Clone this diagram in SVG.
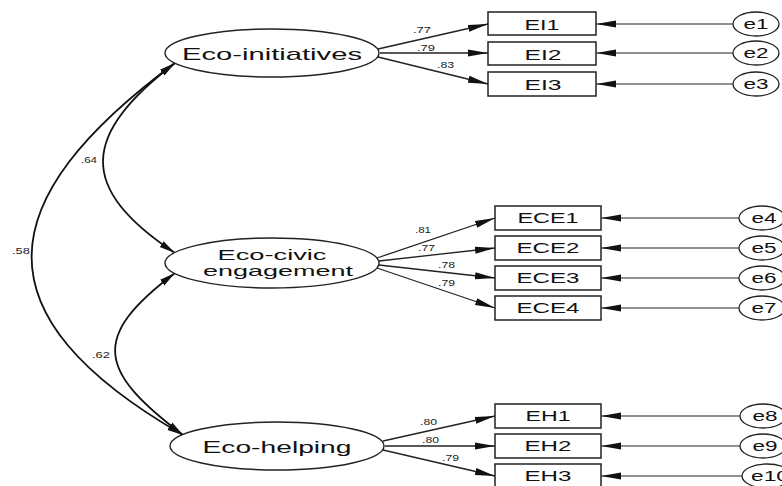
<svg xmlns="http://www.w3.org/2000/svg" width="782" height="486" viewBox="0 0 782 486">
<style>
.lat{fill:#fff;stroke:#222;stroke-width:1.4}
.box{fill:#fff;stroke:#222;stroke-width:1.5}
.err{fill:#fff;stroke:#222;stroke-width:1.3}
.t{font-family:"Liberation Sans",Arial,sans-serif;fill:#111;text-anchor:middle}
.n{font-family:"Liberation Sans",Arial,sans-serif;fill:#222;font-size:9px}
.ld{stroke:#222;stroke-width:1.3;fill:none;marker-end:url(#ah)}
.ea{stroke:#222;stroke-width:1.2;fill:none;marker-end:url(#ah)}
.cv{stroke:#111;stroke-width:1.8;fill:none;marker-start:url(#ch);marker-end:url(#ch)}
</style>
<defs>
<marker id="ah" markerUnits="userSpaceOnUse" viewBox="0 0 20 8" refX="20" refY="4" markerWidth="20" markerHeight="8" orient="auto">
<path d="M0,0.5 L20,4 L0,7.5 z" fill="#111"/>
</marker>
<marker id="ch" markerUnits="userSpaceOnUse" viewBox="0 0 16 8" refX="16" refY="4" markerWidth="16" markerHeight="8" orient="auto-start-reverse">
<path d="M0,0.5 L16,4 L0,7.5 z" fill="#111"/>
</marker>
</defs>
<rect width="782" height="486" fill="#fff"/>

<g id="connectors">
<path class="cv" d="M175,63 C-10,200 -25,315 183,435"/>
<path class="cv" d="M175,63 C81,135 77,188 175,253"/>
<path class="cv" d="M175,273 C90,337 98,371 183,435"/>
<line class="ld" x1="378" y1="49" x2="488" y2="24"/>
<line class="ld" x1="380" y1="53" x2="488" y2="53"/>
<line class="ld" x1="378" y1="57" x2="488" y2="84"/>
<line class="ld" x1="377" y1="258" x2="495" y2="218"/>
<line class="ld" x1="379" y1="261" x2="495" y2="248"/>
<line class="ld" x1="379" y1="265" x2="495" y2="278"/>
<line class="ld" x1="377" y1="268" x2="495" y2="308"/>
<line class="ld" x1="383" y1="441" x2="495" y2="416"/>
<line class="ld" x1="385" y1="446" x2="495" y2="446"/>
<line class="ld" x1="383" y1="450" x2="495" y2="476"/>
<line class="ea" x1="733" y1="24" x2="596" y2="24"/>
<line class="ea" x1="733" y1="53" x2="596" y2="53"/>
<line class="ea" x1="733" y1="84" x2="596" y2="84"/>
<line class="ea" x1="739" y1="218" x2="601" y2="218"/>
<line class="ea" x1="739" y1="248" x2="601" y2="248"/>
<line class="ea" x1="739" y1="278" x2="601" y2="278"/>
<line class="ea" x1="739" y1="308" x2="601" y2="308"/>
<line class="ea" x1="740" y1="416" x2="601" y2="416"/>
<line class="ea" x1="740" y1="446" x2="601" y2="446"/>
<line class="ea" x1="742" y1="476" x2="601" y2="476"/>
<text class="n" x="413" y="33" textLength="18" lengthAdjust="spacingAndGlyphs">.77</text>
<text class="n" x="417" y="51" textLength="18" lengthAdjust="spacingAndGlyphs">.79</text>
<text class="n" x="437" y="68" textLength="17" lengthAdjust="spacingAndGlyphs">.83</text>
<text class="n" x="415" y="233" textLength="16" lengthAdjust="spacingAndGlyphs">.81</text>
<text class="n" x="418" y="251" textLength="17" lengthAdjust="spacingAndGlyphs">.77</text>
<text class="n" x="438" y="268" textLength="17" lengthAdjust="spacingAndGlyphs">.78</text>
<text class="n" x="438" y="286" textLength="17" lengthAdjust="spacingAndGlyphs">.79</text>
<text class="n" x="420" y="425" textLength="17" lengthAdjust="spacingAndGlyphs">.80</text>
<text class="n" x="422" y="443" textLength="17" lengthAdjust="spacingAndGlyphs">.80</text>
<text class="n" x="442" y="461" textLength="17" lengthAdjust="spacingAndGlyphs">.79</text>
<text class="n" x="81" y="163" textLength="16" lengthAdjust="spacingAndGlyphs">.64</text>
<text class="n" x="12" y="254" textLength="18" lengthAdjust="spacingAndGlyphs">.58</text>
<text class="n" x="92" y="358" textLength="18" lengthAdjust="spacingAndGlyphs">.62</text>
</g>

<g id="eco-initiatives">
<ellipse class="lat" cx="272" cy="53" rx="107" ry="24"/>
<text class="t" x="272" y="60" font-size="17" textLength="180" lengthAdjust="spacingAndGlyphs">Eco-initiatives</text>
</g>
<g id="eco-civic">
<ellipse class="lat" cx="272" cy="263" rx="107" ry="25"/>
<text class="t" x="272" y="260" font-size="15" textLength="109" lengthAdjust="spacingAndGlyphs">Eco-civic</text>
<text class="t" x="278" y="276" font-size="15" textLength="150" lengthAdjust="spacingAndGlyphs">engagement</text>
</g>
<g id="eco-helping">
<ellipse class="lat" cx="277" cy="446" rx="107" ry="24"/>
<text class="t" x="277" y="453" font-size="17" textLength="149" lengthAdjust="spacingAndGlyphs">Eco-helping</text>
</g>

<g id="EI1"><rect class="box" x="488" y="12" width="108" height="23"/><text class="t" x="542" y="30" font-size="14" textLength="35" lengthAdjust="spacingAndGlyphs">EI1</text></g>
<g id="EI2"><rect class="box" x="488" y="42" width="108" height="23"/><text class="t" x="543" y="60" font-size="14" textLength="37" lengthAdjust="spacingAndGlyphs">EI2</text></g>
<g id="EI3"><rect class="box" x="488" y="72" width="108" height="24"/><text class="t" x="543" y="90" font-size="14" textLength="37" lengthAdjust="spacingAndGlyphs">EI3</text></g>

<g id="ECE1"><rect class="box" x="495" y="206" width="106" height="24"/><text class="t" x="548" y="223" font-size="14" textLength="61" lengthAdjust="spacingAndGlyphs">ECE1</text></g>
<g id="ECE2"><rect class="box" x="495" y="236" width="106" height="24"/><text class="t" x="548" y="253" font-size="14" textLength="63" lengthAdjust="spacingAndGlyphs">ECE2</text></g>
<g id="ECE3"><rect class="box" x="495" y="266" width="106" height="24"/><text class="t" x="548" y="283" font-size="14" textLength="63" lengthAdjust="spacingAndGlyphs">ECE3</text></g>
<g id="ECE4"><rect class="box" x="495" y="296" width="106" height="24"/><text class="t" x="548" y="313" font-size="14" textLength="63" lengthAdjust="spacingAndGlyphs">ECE4</text></g>

<g id="EH1"><rect class="box" x="495" y="404" width="106" height="24"/><text class="t" x="548" y="421" font-size="14" textLength="45" lengthAdjust="spacingAndGlyphs">EH1</text></g>
<g id="EH2"><rect class="box" x="495" y="434" width="106" height="24"/><text class="t" x="548" y="451" font-size="14" textLength="47" lengthAdjust="spacingAndGlyphs">EH2</text></g>
<g id="EH3"><rect class="box" x="495" y="464" width="106" height="24"/><text class="t" x="548" y="481" font-size="14" textLength="47" lengthAdjust="spacingAndGlyphs">EH3</text></g>

<g id="e1"><ellipse class="err" cx="756" cy="24" rx="23" ry="12"/><text class="t" x="756" y="29" font-size="14" textLength="25" lengthAdjust="spacingAndGlyphs">e1</text></g>
<g id="e2"><ellipse class="err" cx="756" cy="53" rx="23" ry="12"/><text class="t" x="756" y="58" font-size="14" textLength="25" lengthAdjust="spacingAndGlyphs">e2</text></g>
<g id="e3"><ellipse class="err" cx="756" cy="84" rx="23" ry="12"/><text class="t" x="756" y="89" font-size="14" textLength="25" lengthAdjust="spacingAndGlyphs">e3</text></g>
<g id="e4"><ellipse class="err" cx="762" cy="218" rx="23" ry="12"/><text class="t" x="764" y="223" font-size="14" textLength="25" lengthAdjust="spacingAndGlyphs">e4</text></g>
<g id="e5"><ellipse class="err" cx="762" cy="248" rx="23" ry="12"/><text class="t" x="764" y="253" font-size="14" textLength="25" lengthAdjust="spacingAndGlyphs">e5</text></g>
<g id="e6"><ellipse class="err" cx="762" cy="278" rx="23" ry="12"/><text class="t" x="764" y="283" font-size="14" textLength="25" lengthAdjust="spacingAndGlyphs">e6</text></g>
<g id="e7"><ellipse class="err" cx="762" cy="308" rx="23" ry="12"/><text class="t" x="764" y="313" font-size="14" textLength="25" lengthAdjust="spacingAndGlyphs">e7</text></g>
<g id="e8"><ellipse class="err" cx="763" cy="416" rx="23" ry="12"/><text class="t" x="765" y="421" font-size="14" textLength="25" lengthAdjust="spacingAndGlyphs">e8</text></g>
<g id="e9"><ellipse class="err" cx="763" cy="446" rx="23" ry="12"/><text class="t" x="765" y="451" font-size="14" textLength="25" lengthAdjust="spacingAndGlyphs">e9</text></g>
<g id="e10"><ellipse class="err" cx="767" cy="476" rx="25" ry="12"/><text class="t" x="770" y="481" font-size="14" textLength="38" lengthAdjust="spacingAndGlyphs">e10</text></g>
</svg>
